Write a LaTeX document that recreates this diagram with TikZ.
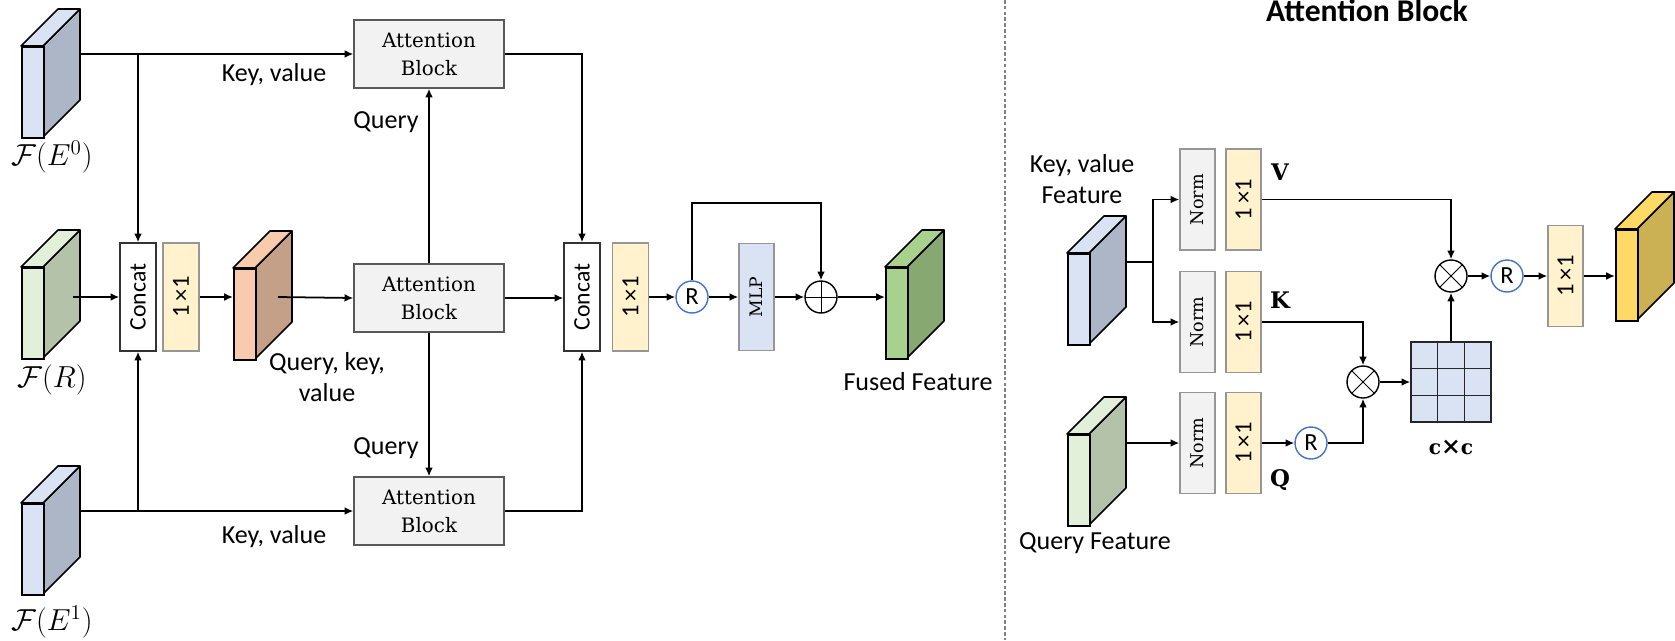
\documentclass[tikz,border=0pt]{standalone}
\usepackage{fontspec}
\newfontfamily\calibri{Carlito}
\newfontfamily\cambria{DejaVu Serif}
\usetikzlibrary{arrows.meta,calc}
\definecolor{bluef}{RGB}{218,227,243}
\definecolor{blues}{RGB}{173,182,198}
\definecolor{greenf}{RGB}{226,240,217}
\definecolor{greens}{RGB}{181,194,170}
\definecolor{orangef}{RGB}{248,203,173}
\definecolor{oranges}{RGB}{197,160,136}
\definecolor{fusedf}{RGB}{169,209,142}
\definecolor{fuseds}{RGB}{135,168,113}
\definecolor{yellowf}{RGB}{255,217,102}
\definecolor{yellows}{RGB}{204,176,84}
\definecolor{convf}{RGB}{255,242,204}
\definecolor{convb}{RGB}{150,150,150}
\definecolor{normf}{RGB}{242,242,242}
\definecolor{rblue}{RGB}{68,114,196}
\newcommand{\lblfont}{\calibri\fontsize{14.8}{18}\selectfont}
\newcommand{\featblock}[5]{%
  \filldraw[fill=#5,draw=black,line width=0.9pt,line join=round] (#2+22,#3) -- ++(37,-37) -- ++(0,91) -- ++(-37,37) -- cycle;
  \filldraw[fill=#4,draw=black,line width=0.9pt,line join=round] (#2,#3) -- ++(37,-37) -- ++(22,0) -- ++(-37,37) -- cycle;
  \node[draw=black,fill=#4,line width=0.9pt,minimum width=0.44cm,minimum height=1.82cm,inner sep=0,anchor=north west] (#1) at (#2,#3) {};
}
\tikzset{
  conn/.style={line width=1pt,-{Latex[length=5pt,width=4.5pt]}},
  line/.style={line width=1pt},
  attbox/.style={draw=black!65,fill=normf,line width=0.8pt,minimum width=3cm,minimum height=1.36cm,inner sep=0,align=center,font=\cambria\fontsize{11.3}{16}\selectfont},
  catbox/.style={draw=black!80,fill=white,line width=0.8pt,minimum width=0.72cm,minimum height=2.16cm,inner sep=0},
  convL/.style={draw=convb,fill=convf,line width=0.8pt,minimum width=0.72cm,minimum height=2.16cm,inner sep=0},
  convR/.style={draw=convb,fill=convf,line width=0.8pt,minimum width=0.7cm,minimum height=2.02cm,inner sep=0},
  normbox/.style={draw=convb,fill=normf,line width=0.8pt,minimum width=0.7cm,minimum height=2.02cm,inner sep=0},
  mlpbox/.style={draw=convb,fill=bluef,line width=0.8pt,minimum width=0.7cm,minimum height=2.14cm,inner sep=0},
  rcirc/.style={circle,draw=rblue,fill=white,line width=0.8pt,minimum size=0.64cm,inner sep=0,font=\calibri\fontsize{14}{16}\selectfont},
  mulc/.style={circle,draw=black,fill=white,line width=0.8pt,minimum size=0.64cm,inner sep=0,
    path picture={\draw[line width=0.5pt] (path picture bounding box.north west) -- (path picture bounding box.south east)
      (path picture bounding box.north east) -- (path picture bounding box.south west);}},
  addc/.style={circle,draw=black,fill=white,line width=0.8pt,minimum size=0.64cm,inner sep=0,
    path picture={\draw[line width=0.5pt] (path picture bounding box.north) -- (path picture bounding box.south)
      (path picture bounding box.east) -- (path picture bounding box.west);}},
  vtxt/.style={rotate=90,inner sep=0},
  lbl/.style={font=\lblfont,inner sep=0,align=center},
  mathlbl/.style={font=\fontsize{17}{20}\selectfont,inner sep=0},
  qkv/.style={font=\cambria\fontsize{13}{16}\selectfont\bfseries,inner sep=0},
}
\begin{document}
\begin{tikzpicture}[x=0.02cm,y=-0.02cm]
\useasboundingbox (0,0) rectangle (1675,640);

% ---------------- left part ----------------
\featblock{e0}{21}{46}{bluef}{blues}
\featblock{fr}{21}{267}{greenf}{greens}
\featblock{e1}{21}{503}{bluef}{blues}
\featblock{qkvf}{233}{268}{orangef}{oranges}
\featblock{fused}{885}{267}{fusedf}{fuseds}

\node[mathlbl] (le0) at (52,157) {$\mathcal{F}(E^0)$};
\node[mathlbl] (lr) at (52,380) {$\mathcal{F}(R)$};
\node[mathlbl] (le1) at (52,622) {$\mathcal{F}(E^1)$};

\node[catbox] (cat1) at (138,297) {};
\node[vtxt,font=\calibri\fontsize{13.5}{16}\selectfont] at (cat1) {Concat};
\node[convL] (cv1) at (181,297) {};
\node[vtxt,font=\calibri\fontsize{14}{16}\selectfont] at (cv1) {1\,×1};

\node[attbox] (att1) at (429,54) {Attention\\Block};
\node[attbox] (att2) at (429,298) {Attention\\Block};
\node[attbox] (att3) at (429,511) {Attention\\Block};

\node[catbox] (cat2) at (582,297) {};
\node[vtxt,font=\calibri\fontsize{13.5}{16}\selectfont] at (cat2) {Concat};
\node[convL] (cv2) at (630.5,297) {};
\node[vtxt,font=\calibri\fontsize{14}{16}\selectfont] at (cv2) {1\,×1};
\node[rcirc] (r1) at (692,297) {R};
\node[mlpbox] (mlp) at (756.5,297) {};
\node[vtxt,font=\cambria\fontsize{9.8}{12}\selectfont] at (mlp) {MLP};
\node[addc] (plus) at (821,297) {};

\coordinate (e0out) at (81,54);
\coordinate (e1out) at (81,511);
\coordinate (frout) at (73,297);
\coordinate (qkvout) at (278,297);
\coordinate (j0) at (138,54);
\coordinate (j1) at (138,511);
\coordinate (skip) at (692,203);

\draw[conn] (e0out) -- (att1.west);
\draw[conn] (j0) -- (cat1.north);
\draw[conn] (e1out) -- (att3.west);
\draw[conn] (j1) -- (cat1.south);
\draw[conn] (frout) -- (cat1.west);
\draw[conn] (cv1.east) -- (cv1.east -| qkvf.west);
\draw[conn] (qkvout) -- (att2.west);
\draw[conn] (att2.north) -- (att1.south);
\draw[conn] (att2.south) -- (att3.north);
\draw[conn] (att1.east) -| (cat2.north);
\draw[conn] (att3.east) -| (cat2.south);
\draw[conn] (att2.east) -- (att2.east -| cat2.west);
\draw[conn] (cv2.east) -- (r1.west);
\draw[conn] (r1.east) -- (mlp.west);
\draw[conn] (mlp.east) -- (plus.west);
\draw[conn] (r1.north) -- (skip) -| (plus.north);
\draw[conn] (plus.east) -- (plus.east -| fused.west);

\node[lbl] (kv1) at (274,75) {Key, value};
\node[lbl] (kv2) at (274,537) {Key, value};
\node[lbl] (q1) at (386,122) {Query};
\node[lbl] (q2) at (386,448) {Query};
\node[lbl,align=center] (qkvl) at (327,377) {Query, key,\\value};
\node[lbl] (fusedl) at (918,382) {Fused Feature};

% divider
\draw[black!50,line width=0.7pt,dash pattern=on 2pt off 1.3pt] (1005,0) -- (1005,640);

% ---------------- right part ----------------
\node[font=\calibri\bfseries\fontsize{18}{20}\selectfont,inner sep=0,anchor=base] (title) at (1367,21) {Attention Block};

\featblock{kvf}{1067}{253}{bluef}{blues}
\featblock{qf}{1067}{434}{greenf}{greens}
\featblock{outf}{1615}{229}{yellowf}{yellows}

\node[lbl] (kvl) at (1082,179) {Key, value\\Feature};
\node[lbl] (ql) at (1095,543) {Query Feature};

\node[normbox] (nv) at (1197.5,199.5) {};
\node[normbox] (nk) at (1197.5,322) {};
\node[normbox] (nq) at (1197.5,443) {};
\foreach \n in {nv,nk,nq}{\node[vtxt,font=\cambria\fontsize{10}{13}\selectfont] at (\n) {Norm};}
\node[convR] (cvv) at (1243.5,199.5) {};
\node[convR] (cvk) at (1243.5,322) {};
\node[convR] (cvq) at (1243.5,443) {};
\node[convR] (cv3) at (1565.5,276) {};
\foreach \n in {cvv,cvk,cvq,cv3}{\node[vtxt,font=\calibri\fontsize{14}{16}\selectfont] at (\n) {1\,×1};}

\node[qkv] (vl) at (1280,172) {V};
\node[qkv] (kl) at (1280,300) {K};
\node[qkv] (ql2) at (1280,480) {Q};

\node[rcirc] (r2) at (1311,443) {R};
\node[mulc] (m2) at (1363,382) {};
\node[mulc] (m1) at (1451,276) {};
\node[rcirc] (r3) at (1507,276) {R};

\node[draw=black!85,fill=bluef,line width=0.8pt,minimum size=1.6cm,inner sep=0] (grid) at (1451,382) {};
\foreach \f in {1,2}{
  \draw[black!85,line width=0.8pt] ($(grid.north west)!\f/3!(grid.north east)$) -- ($(grid.south west)!\f/3!(grid.south east)$);
  \draw[black!85,line width=0.8pt] ($(grid.north west)!\f/3!(grid.south west)$) -- ($(grid.north east)!\f/3!(grid.south east)$);
}
\node[font=\cambria\fontsize{11.5}{15}\selectfont\bfseries,inner sep=0] (cxc) at (1451,447) {c{\fontsize{13.5}{15}\selectfont ×}c};

\coordinate (kvout) at (1127,262);
\coordinate (kvj) at (1153,262);
\coordinate (qout) at (1127,443);

\draw[line] (kvout) -- (kvj);
\draw[conn] (kvj) |- (nv.west);
\draw[conn] (kvj) |- (nk.west);
\draw[conn] (qout) -- (nq.west);
\draw[conn] (cvv.east) -| (m1.north);
\draw[conn] (cvk.east) -| (m2.north);
\draw[conn] (cvq.east) -- (r2.west);
\draw[conn] (r2.east) -| (m2.south);
\draw[conn] (m2.east) -- (grid.west);
\draw[conn] (grid.north) -- (m1.south);
\draw[conn] (m1.east) -- (r3.west);
\draw[conn] (r3.east) -- (cv3.west);
\draw[conn] (cv3.east) -- (cv3.east -| outf.west);
\end{tikzpicture}
\end{document}
